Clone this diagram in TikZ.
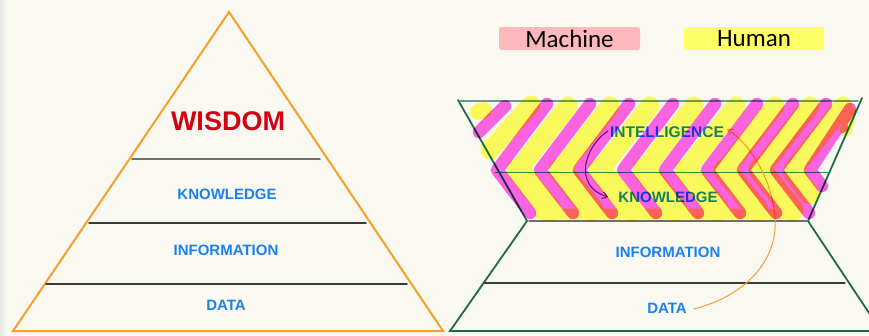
\documentclass[tikz,border=0pt]{standalone}
\usepackage{fontspec}
\setmainfont{Liberation Sans}
\newfontfamily\legendfont{Carlito}
\usetikzlibrary{arrows.meta}

\definecolor{paper}{HTML}{FAF9F1}
\definecolor{pyrorange}{HTML}{F5A02C}
\definecolor{tierdark}{HTML}{3A3A3A}
\definecolor{tiergray}{HTML}{707070}
\definecolor{labelblue}{HTML}{1A80EE}
\definecolor{wisdomred}{HTML}{D20012}
\definecolor{funnelgreen}{HTML}{1D6B4C}
\definecolor{rimgreen}{HTML}{6E9A8E}
\definecolor{hlpink}{HTML}{FF66EE}
\definecolor{hlyellow}{HTML}{FFFF62}
\definecolor{legendpink}{HTML}{FFB8BC}
\definecolor{legendyellow}{HTML}{FFFF66}
\definecolor{arrowpurple}{HTML}{6A1A70}

\tikzset{
  tierlabel/.style={font=\fontsize{15}{15}\selectfont\bfseries, text=labelblue, inner sep=0pt},
  tierline/.style={line width=1.4pt},
  legendbox/.style={rounded corners=2.5pt, inner sep=0pt, minimum width=141pt,
    minimum height=23pt, font=\legendfont\fontsize{25}{25}\selectfont, text=black},
  marker/.style={line cap=round, line join=round},
  pinkstroke/.style={marker, hlpink, line width=12.5pt},
  yellowstroke/.style={marker, hlyellow, line width=19pt},
}

\begin{document}
\begin{tikzpicture}[x=1pt, y=-1pt, line cap=round, line join=round]
\clip (0,0) rectangle (869,335);
\fill[paper] (0,0) rectangle (869,335);
\shade[left color=black!9, right color=paper] (0,0) rectangle (7,335);

% ---------- classic DIKW pyramid ----------
\coordinate (apex) at (229,12);
\coordinate (pbl) at (13,331);
\coordinate (pbr) at (443,331);
\draw[pyrorange, line width=2pt, line join=miter] (apex) -- (pbr) -- (pbl) -- cycle;

\coordinate (l1a) at (132,159); \coordinate (l1b) at (320,159);
\coordinate (l2a) at (89,223);  \coordinate (l2b) at (366,223);
\coordinate (l3a) at (46,284);  \coordinate (l3b) at (407,284);
\draw[tierline, tiergray] (l1a) -- (l1b);
\draw[tierline, tierdark] (l2a) -- (l2b);
\draw[tierline, tierdark] (l3a) -- (l3b);

\node[inner sep=0pt, font=\fontsize{27}{27}\selectfont\bfseries, text=wisdomred] (wisdom) at (228,121) {WISDOM};
\node[tierlabel] (knowL) at (227,194) {KNOWLEDGE};
\node[tierlabel] (infoL) at (226,250) {INFORMATION};
\node[tierlabel] (dataL) at (226,305) {DATA};

% ---------- legend ----------
\node[legendbox, fill=legendpink] (machine) at (569.5,38.5) {Machine};
\node[legendbox, fill=legendyellow, minimum width=140pt] (human) at (754,38.5) {Human};

% ---------- funnel ----------
\coordinate (ftl) at (458,100);
\coordinate (ftr) at (862,98);
\coordinate (fwl) at (527,221);
\coordinate (fwr) at (808,221);
\coordinate (fbl) at (450,331);
\coordinate (fbr) at (881,331);
\draw[funnelgreen, line width=1.8pt, line join=miter] (ftl) -- (fwl) -- (fbl) -- (fbr) -- (fwr) -- (ftr);

\coordinate (r0a) at (460,101); \coordinate (r0b) at (858,101);
\coordinate (r1a) at (495,172); \coordinate (r1b) at (828,172);
\coordinate (r2a) at (529,221); \coordinate (r2b) at (807,221);
\coordinate (r3a) at (484,283); \coordinate (r3b) at (845,283);
\draw[rimgreen, line width=1.2pt] (r0a) -- (r0b);
\draw[funnelgreen!80, line width=1pt] (r1a) -- (r1b);
\draw[tiergray, line width=2pt] (r2a) -- (r2b);
\draw[tierdark, line width=1.2pt] (r3a) -- (r3b);

\node[tierlabel, font=\fontsize{15.5}{15.5}\selectfont\bfseries] (intel) at (667,132) {INTELLIGENCE};
\node[tierlabel] (knowR) at (668,197) {KNOWLEDGE};
\node[tierlabel] (infoR) at (668,252) {INFORMATION};
\node[tierlabel] (dataR) at (667,308) {DATA};

% arrows between the tiers
\draw[arrowpurple, line width=1pt, -{Straight Barb[length=5pt, width=7pt]}]
  ([xshift=-2pt,yshift=1pt]intel.west) .. controls (585,146) and (572,186) .. ([xshift=-10pt]knowR.west);
\draw[pyrorange, line width=1pt, -{Straight Barb[length=5pt, width=7pt]}]
  ([xshift=7pt,yshift=-1pt]dataR.east) .. controls (752,294) and (778,255) .. (775,218)
  .. controls (772,180) and (752,146) .. ([xshift=3pt,yshift=3pt]intel.east);

% ---------- highlighter chevrons ----------
\begin{scope}[blend mode=multiply]
  % yellow marker: lower band first, then the rising strokes
  \begin{scope}[blend group=normal]
    \foreach \v in {518,560,600,644,686,725,760}
      \draw[yellowstroke, line width=23pt] (\v,170) -- (\v+32,210);
    \draw[yellowstroke, line width=20pt] (793,172) -- (809,194);
    \draw[yellowstroke, line width=11pt] (540,214) -- (796,214);
    \foreach \v in {518,560,600,644,686,725,760}
      \draw[yellowstroke] (\v+50,106) -- (\v,170);
    \draw[yellowstroke] (843,106) -- (793,170);
    \draw[yellowstroke] (490,150) -- (531,105);
    \draw[yellowstroke, line width=16pt] (478,112) -- (484,110);
    \draw[yellowstroke, line width=12pt] (850,112) -- (846,130);
  \end{scope}
  % magenta marker
  \begin{scope}[blend group=normal]
    \foreach \v in {497,540,579,623,665,707,743,776}
      \draw[pinkstroke] (\v+50,104) -- (\v,170) -- (\v+33,213);
    \draw[pinkstroke] (850,109) -- (810,170) -- (822,186);
    \draw[pinkstroke] (479,132) -- (505,106);
    \fill[hlpink] (842,127) circle (6pt);
  \end{scope}
\end{scope}
\end{tikzpicture}
\end{document}
